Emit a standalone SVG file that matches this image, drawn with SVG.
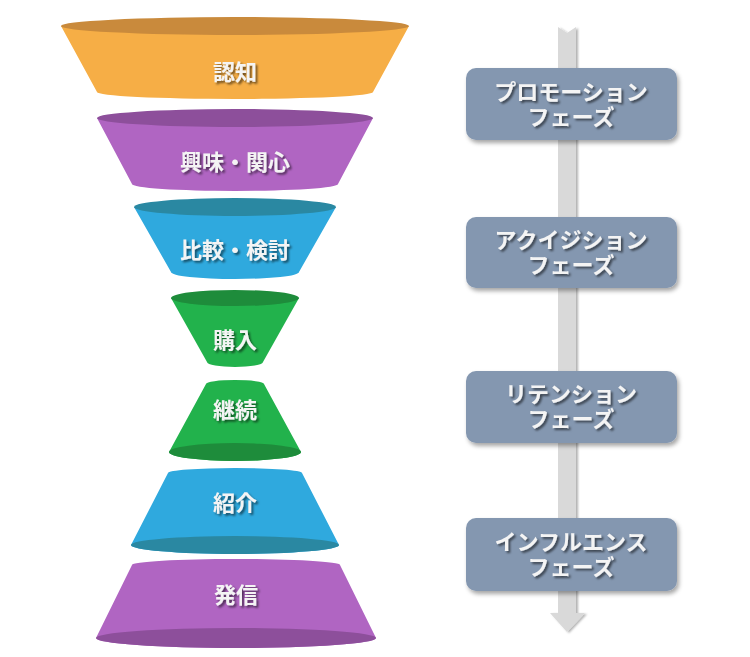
<svg xmlns="http://www.w3.org/2000/svg" width="750" height="657" viewBox="0 0 750 657">
<defs>
<filter id="ts" x="-20%" y="-40%" width="140%" height="180%">
<feDropShadow dx="2" dy="2" stdDeviation="1.3" flood-color="#000" flood-opacity="0.55"/>
</filter>
<filter id="bs" x="-10%" y="-20%" width="125%" height="150%">
<feDropShadow dx="2" dy="3" stdDeviation="2" flood-color="#000" flood-opacity="0.35"/>
</filter>
<filter id="as" x="-30%" y="-5%" width="170%" height="110%">
<feDropShadow dx="2" dy="1" stdDeviation="1" flood-color="#000" flood-opacity="0.3"/>
</filter>
</defs>
<style>
.lbl{font-family:"Noto Sans CJK JP","Noto Sans",sans-serif;font-weight:bold;font-size:22px;fill:#F4F4F4;text-anchor:middle;filter:url(#ts)}
.box{fill:#8497B0;filter:url(#bs)}
.org{fill:#F6AE46}.orgd{fill:#C98A3C}
.pur{fill:#B065C2}.purd{fill:#8D4F9B}
.blu{fill:#2FA9DE}.blud{fill:#2A88A2}
.grn{fill:#22B24C}.grnd{fill:#1E8C3B}
</style>
<g id="connectors">
<path d="M558,27 L567,33 L576,27 L576,613 L585,613 L567,632 L550,613 L558,613 Z" fill="#D9D9D9" filter="url(#as)"/>
</g>
<g id="n-ninchi">
<path class="org" d="M61,26 L97,92 A138,7 0 0 0 373,92 L409,26 Z"/>
<ellipse class="orgd" cx="235" cy="26" rx="174" ry="9"/>
<text class="lbl" x="235" y="80">認知</text>
</g>
<g id="n-kyomi">
<path class="pur" d="M97,118 L132,184 A103,7 0 0 0 338,184 L373,118 Z"/>
<ellipse class="purd" cx="235" cy="118" rx="138" ry="9"/>
<text class="lbl" x="235" y="170">興味・関心</text>
</g>
<g id="n-hikaku">
<path class="blu" d="M134,207 L171,272 A64,7 0 0 0 299,272 L336,207 Z"/>
<ellipse class="blud" cx="235" cy="207" rx="101" ry="9"/>
<text class="lbl" x="235" y="258">比較・検討</text>
</g>
<g id="n-konyu">
<path class="grn" d="M171,298 L207,362 A28,5 0 0 0 263,362 L299,298 Z"/>
<ellipse class="grnd" cx="235" cy="298" rx="64" ry="8"/>
<text class="lbl" x="235" y="348">購入</text>
</g>
<g id="n-keizoku">
<path class="grn" d="M206,384 A29,4 0 0 1 264,384 L301,452 A66,9 0 0 1 169,452 Z"/>
<ellipse class="grnd" cx="235" cy="452" rx="66" ry="9"/>
<text class="lbl" x="235" y="418">継続</text>
</g>
<g id="n-shokai">
<path class="blu" d="M168,473 A67,5 0 0 1 302,473 L339,545 A104,9 0 0 1 131,545 Z"/>
<ellipse class="blud" cx="235" cy="545" rx="104" ry="9"/>
<text class="lbl" x="235" y="511">紹介</text>
</g>
<g id="n-hasshin">
<path class="pur" d="M132,565 A104,6 0 0 1 340,565 L376,638 A140,10 0 0 1 96,638 Z"/>
<ellipse class="purd" cx="236" cy="638" rx="140" ry="10"/>
<text class="lbl" x="236" y="603">発信</text>
</g>
<g id="p-promotion">
<rect class="box" x="466" y="68" width="211" height="72" rx="10"/>
<text class="lbl" x="571" y="100">プロモーション<tspan x="571" dy="25">フェーズ</tspan></text>
</g>
<g id="p-acquisition">
<rect class="box" x="466" y="217" width="211" height="71" rx="10"/>
<text class="lbl" x="571" y="248">アクイジション<tspan x="571" dy="25">フェーズ</tspan></text>
</g>
<g id="p-retention">
<rect class="box" x="466" y="371" width="211" height="72" rx="10"/>
<text class="lbl" x="571" y="402">リテンション<tspan x="571" dy="25">フェーズ</tspan></text>
</g>
<g id="p-influence">
<rect class="box" x="466" y="518" width="211" height="73" rx="10"/>
<text class="lbl" x="571" y="550">インフルエンス<tspan x="571" dy="25">フェーズ</tspan></text>
</g>
</svg>
